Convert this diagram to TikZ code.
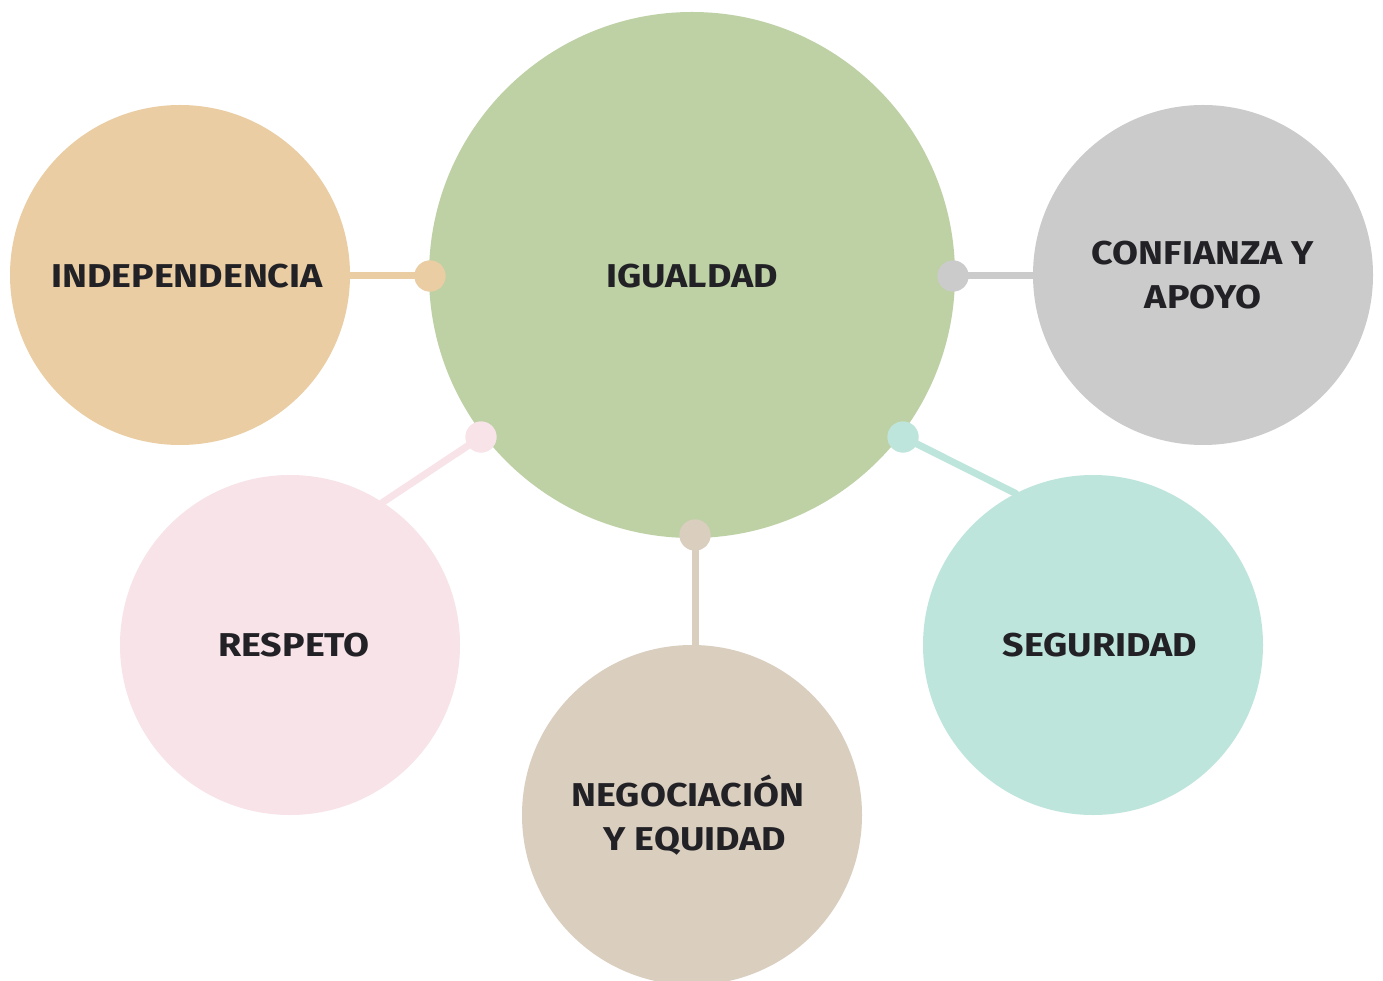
\documentclass[tikz,border=0pt]{standalone}
\usepackage{fontspec}
\setmainfont{Fira Sans}[FakeStretch=1.14]
\definecolor{cGreen}{HTML}{BED1A5}
\definecolor{cSand}{HTML}{EACDA3}
\definecolor{cGray}{HTML}{CBCBCB}
\definecolor{cPink}{HTML}{F7E3E8}
\definecolor{cBeige}{HTML}{DACEBF}
\definecolor{cMint}{HTML}{BEE5DC}
\definecolor{cText}{HTML}{222226}
\tikzset{
  bubble/.style={circle, fill=#1, draw=none, inner sep=0pt, outer sep=0pt, minimum size=340pt},
  hub/.style={circle, fill=cGreen, draw=none, inner sep=0pt, outer sep=0pt, minimum size=526pt},
  knob/.style={circle, fill=#1, draw=none, inner sep=0pt, outer sep=0pt, minimum size=31pt},
  link/.style={draw=#1, line width=7pt, line cap=round},
  lbl/.style={text=cText, font=\fontsize{33}{44}\selectfont\bfseries, align=center, inner sep=0pt}
}
\begin{document}
\begin{tikzpicture}[x=1pt,y=-1pt]
\useasboundingbox[fill=white] (0,0) rectangle (1383,981);
\begin{scope}
\clip (0,0) rectangle (1383,981);
\node[hub] (center) at (692,275) {};
\node[bubble=cSand] (indep) at (180,275) {};
\node[bubble=cGray] (conf) at (1203,275) {};
\node[bubble=cPink] (resp) at (290,645) {};
\node[bubble=cBeige] (nego) at (692,815) {};
\node[bubble=cMint] (segu) at (1093,645) {};
\end{scope}
% knobs on hub border
\node[knob=cSand] (kIndep) at (430,276) {};
\node[knob=cGray] (kConf) at (953,276) {};
\node[knob=cPink] (kResp) at (481,437) {};
\node[knob=cMint] (kSegu) at (903,437) {};
\node[knob=cBeige] (kNego) at (695,535) {};
% links
\draw[link=cSand] (kIndep.center) -- (kIndep.center -| indep.east);
\draw[link=cGray] (kConf.center) -- (kConf.center -| conf.west);
\draw[link=cPink] (kResp.center) -- (resp.57.5);
\draw[link=cMint] (kSegu.center) -- (segu.117);
\draw[link=cBeige] (kNego.center) -- ([yshift=-3pt]kNego.center |- nego.north);
% knobs redrawn on top
\fill[cSand] (kIndep) circle (15.5pt);
\fill[cGray] (kConf) circle (15.5pt);
\fill[cPink] (kResp) circle (15.5pt);
\fill[cMint] (kSegu) circle (15.5pt);
\fill[cBeige] (kNego) circle (15.5pt);
% labels
\node[lbl] (tIndep) at (187,276) {INDEPENDENCIA};
\node[lbl] (tCenter) at (692,276) {IGUALDAD};
\node[lbl] (tConf) at (1203,275) {CONFIANZA Y\\APOYO};
\node[lbl] (tResp) at (294,645) {RESPETO};
\node[lbl] (tSegu) at (1100,645) {SEGURIDAD};
\node[lbl] (tNego) at (688,815) {NEGOCIACIÓN\\\hspace*{14pt}Y EQUIDAD};
\end{tikzpicture}
\end{document}
